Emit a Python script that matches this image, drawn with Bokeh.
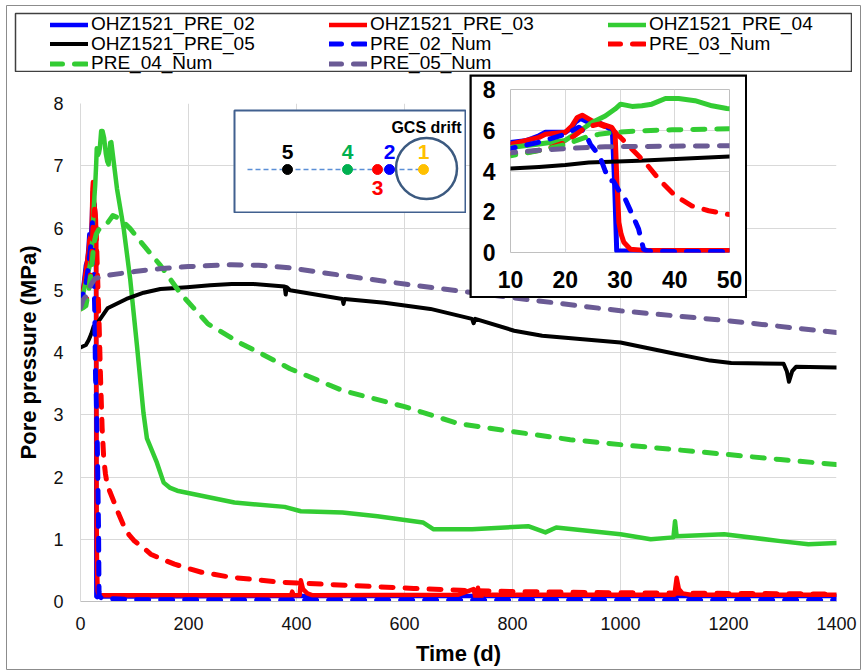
from bokeh.plotting import figure
from bokeh.models import Range1d, FixedTicker, Legend, LegendItem
from bokeh.layouts import column
from bokeh.embed import file_html
from bokeh.resources import INLINE
from bokeh.core.properties import value

FONT = "Liberation Sans"

# ---------------- data (time in days, pore pressure in MPa) ----------------
t_pre02 = [0, 3, 6, 10, 12.7, 14, 15.2, 16.4, 20, 20.9, 21.9, 22.8, 24.3, 26.1, 27.3, 28.6, 29.0, 29.4, 31, 35, 100, 400, 700, 1000, 1400]
p_pre02 = [4.8, 4.9, 5.1, 5.4, 5.48, 5.6, 5.73, 5.9, 5.9, 6.05, 6.4, 6.58, 6.38, 6.38, 6.2, 6.0, 3.5, 0.08, 0.07, 0.08, 0.08, 0.09, 0.09, 0.09, 0.09]

t_pre03 = [0, 5, 10, 15.2, 16.4, 20, 21.2, 22.2, 23.1, 24.9, 26.7, 28.5, 29.1, 29.45, 29.8, 30.2, 30.7, 31.9, 34.6, 100, 390, 392, 395, 406, 408, 412, 420, 430, 700, 728, 732, 736, 740, 745, 750, 1100, 1104, 1108, 1115, 1130, 1400]
p_pre03 = [4.75, 5.0, 5.32, 5.65, 5.8, 5.9, 6.2, 6.63, 6.74, 6.46, 6.3, 6.14, 5.9, 3.4, 1.47, 0.9, 0.5, 0.16, 0.1, 0.1, 0.1, 0.16, 0.1, 0.1, 0.34, 0.2, 0.13, 0.1, 0.11, 0.2, 0.04, 0.22, 0.0, 0.15, 0.11, 0.11, 0.38, 0.2, 0.13, 0.11, 0.11]

t_pre04 = [0, 5, 10, 15.2, 20, 23.1, 24.9, 27.3, 29.1, 30.1, 32.2, 34, 35.8, 38.3, 40.7, 43.7, 46.8, 49.5, 52, 55, 57, 67.6, 80, 92, 104.6, 116.6, 123, 141.5, 154, 165, 179, 224, 285, 378, 408, 485, 550, 634, 654, 725, 829, 861, 881, 1000, 1056, 1098, 1101, 1104, 1192, 1296, 1348, 1400]
p_pre04 = [4.75, 4.95, 5.15, 5.32, 5.5, 6.05, 6.38, 6.7, 7.04, 7.28, 7.17, 7.2, 7.28, 7.56, 7.56, 7.45, 7.2, 7.07, 7.02, 7.37, 7.38, 6.63, 5.99, 5.18, 4.11, 3.03, 2.62, 2.23, 1.91, 1.83, 1.78, 1.70, 1.59, 1.52, 1.45, 1.43, 1.37, 1.27, 1.16, 1.16, 1.21, 1.11, 1.19, 1.08, 1.0, 1.03, 1.29, 1.05, 1.08, 0.97, 0.92, 0.94]

t_pre05 = [0, 5, 10, 15.2, 20, 24.3, 33.4, 50, 85, 117, 148, 197, 240, 280, 320, 378, 380, 382, 388, 485, 487, 489, 563, 648, 725, 728, 731, 803, 855, 1000, 1101, 1166, 1205, 1302, 1308, 1312, 1318, 1325, 1400]
p_pre05 = [4.08, 4.1, 4.12, 4.2, 4.3, 4.42, 4.5, 4.71, 4.86, 4.96, 5.02, 5.05, 5.08, 5.1, 5.1, 5.06, 4.93, 5.05, 5.0, 4.86, 4.78, 4.86, 4.8, 4.7, 4.54, 4.47, 4.54, 4.35, 4.27, 4.16, 3.98, 3.87, 3.83, 3.82, 3.7, 3.53, 3.7, 3.77, 3.76]

t_num02 = [0, 5, 10, 15, 20, 22.5, 23.7, 24.6, 25.8, 26.4, 27.3, 28.0, 28.8, 30.0, 31.0, 32.5, 33.4, 34.3, 35.0, 40, 100, 400, 1400]
p_num02 = [4.75, 4.95, 5.1, 5.4, 5.8, 6.15, 5.85, 5.3, 4.9, 4.66, 4.0, 3.55, 3.5, 2.95, 2.6, 1.7, 1.15, 0.16, 0.08, 0.05, 0.03, 0.02, 0.02]

t_num03 = [0, 5, 10, 12.7, 16.4, 20, 23.7, 26.1, 28.5, 30.1, 32.2, 34.6, 37.1, 40.1, 43.1, 46.2, 49.5, 55, 62, 70, 80, 90, 100, 117, 130, 154, 174, 204, 224, 278, 371, 494, 617, 704, 800, 1000, 1200, 1400]
p_num03 = [4.7, 4.75, 4.83, 4.9, 5.07, 5.4, 6.14, 6.3, 6.05, 5.65, 5.07, 4.42, 3.6, 2.78, 2.29, 2.05, 1.88, 1.75, 1.6, 1.42, 1.22, 1.07, 0.97, 0.86, 0.76, 0.67, 0.6, 0.52, 0.47, 0.39, 0.31, 0.26, 0.21, 0.18, 0.16, 0.14, 0.13, 0.12]

t_num04 = [0, 5, 10, 15.2, 20, 23.7, 26.1, 29.1, 33.4, 39.5, 50, 60, 73, 92, 117, 148, 185, 236, 298, 335, 388, 485, 600, 699, 800, 907, 1000, 1101, 1200, 1296, 1400]
p_num04 = [4.7, 4.72, 4.75, 5.0, 5.3, 5.65, 5.8, 5.9, 5.97, 6.02, 6.08, 6.2, 6.15, 5.99, 5.72, 5.4, 4.95, 4.46, 4.14, 3.98, 3.74, 3.39, 3.13, 2.86, 2.73, 2.6, 2.52, 2.44, 2.36, 2.28, 2.2]

t_num05 = [0, 5, 10, 15.2, 20, 27.3, 50, 100, 150, 200, 280, 330, 388, 450, 600, 800, 1000, 1200, 1400]
p_num05 = [4.72, 4.85, 4.9, 5.02, 5.1, 5.19, 5.24, 5.3, 5.35, 5.38, 5.41, 5.4, 5.36, 5.28, 5.1, 4.88, 4.67, 4.51, 4.32]

series_names = ["OHZ1521_PRE_02", "OHZ1521_PRE_03", "OHZ1521_PRE_04", "OHZ1521_PRE_05",
                "PRE_02_Num", "PRE_03_Num", "PRE_04_Num", "PRE_05_Num"]
series_t = [t_pre02, t_pre03, t_pre04, t_pre05, t_num02, t_num03, t_num04, t_num05]
series_p = [p_pre02, p_pre03, p_pre04, p_pre05, p_num02, p_num03, p_num04, p_num05]
series_colors = ["#0000ff", "#ff0000", "#33cc33", "#000000", "#0000ff", "#ff0000", "#33cc33", "#6b5b95"]
series_dashed = [False, False, False, False, True, True, True, True]

x_ticks = [0, 200, 400, 600, 800, 1000, 1200, 1400]
y_ticks = [0, 1, 2, 3, 4, 5, 6, 7, 8]
inset_x_ticks = [10, 20, 30, 40, 50]
inset_y_ticks = [0, 2, 4, 6, 8]

# schematic of sensor positions along the borehole
sensor_labels = ["5", "4", "3", "2", "1"]
sensor_pos = [53, 113, 143, 155, 189]
sensor_label_y = [61, 61, 24.5, 61, 61]
sensor_colors = ["#000000", "#00b050", "#ff0000", "#0000ff", "#ffc000"]


def line_style(i, width_solid=4.5):
    st = dict(line_color=series_colors[i], line_join="round")
    if series_dashed[i]:
        st.update(line_width=5, line_dash="12 12", line_cap="round")
    else:
        st.update(line_width=(4 if series_colors[i] == "#000000" else width_solid), line_cap="round")
    return st


def at(left, top):
    return {"position": "absolute", "left": f"{left}px", "top": f"{top}px"}


def blank(width, height, left, top, **kw):
    return figure(width=width, height=height, x_axis_type=None, y_axis_type=None,
                  output_backend="svg", toolbar_location=None, frame_align=False,
                  styles=at(left, top), **kw)


def overlay_box(width, height, left, top, color, lw):
    b = blank(width, height, left, top, min_border=1)
    b.background_fill_alpha = 0
    b.border_fill_alpha = 0
    b.outline_line_color = color
    b.outline_line_width = lw
    return b


# ---------------- main plot ----------------
main = figure(width=862, height=670, x_range=Range1d(0, 1400), y_range=Range1d(0, 8),
              output_backend="svg", toolbar_location=None, frame_align=False,
              min_border_left=80, min_border_right=26, min_border_top=103, min_border_bottom=69,
              styles={"position": "relative"})
main.outline_line_color = None
for i in range(8):
    main.line(series_t[i], series_p[i], **line_style(i))

main.xaxis.ticker = FixedTicker(ticks=x_ticks)
main.yaxis.ticker = FixedTicker(ticks=y_ticks)
main.xgrid.ticker = FixedTicker(ticks=x_ticks)
main.ygrid.ticker = FixedTicker(ticks=y_ticks)
main.grid.grid_line_color = "#d9d9d9"
main.grid.grid_line_width = 1
main.axis.major_tick_out = 0
main.axis.major_tick_in = 0
main.axis.minor_tick_out = 0
main.axis.minor_tick_in = 0
main.yaxis.axis_line_color = "#d9d9d9"
main.xaxis.axis_line_color = "#bfbfbf"
main.axis.major_label_text_font = FONT
main.axis.major_label_text_font_size = "18px"
main.axis.major_label_text_color = "#111111"
main.axis.axis_label_text_font = FONT
main.axis.axis_label_text_font_size = "22px"
main.axis.axis_label_text_font_style = "bold"
main.axis.axis_label_text_color = "#000000"
main.xaxis.axis_label = "Time (d)"
main.yaxis.axis_label = "Pore pressure (MPa)"
main.yaxis.major_label_standoff = 17
main.yaxis.axis_label_standoff = 9
main.xaxis.major_label_standoff = 15
main.xaxis.axis_label_standoff = 8

# ---------------- legend panel ----------------
leg = blank(838, 66, 14, 12, x_range=Range1d(-3, -2), y_range=Range1d(0, 1), min_border=0)
leg.outline_line_color = None
leg.background_fill_alpha = 0
leg.border_fill_alpha = 0
# swatch renderers (their data lie outside this panel's ranges, only the legend swatches show)
leg_renderers = [leg.line(series_t[i], series_p[i], **line_style(i)) for i in range(8)]
rows = [[0, 1, 2], [3, 4, 5], [6, 7]]
row_loc = [43, 23.5, 4]
for ri, row in enumerate(rows):
    lg = Legend(items=[LegendItem(label=series_names[i], renderers=[leg_renderers[i]]) for i in row],
                orientation="horizontal", location=(36, row_loc[ri]), spacing=0, padding=0, margin=0,
                glyph_width=38, glyph_height=19, label_width=238, label_height=19, label_standoff=3,
                label_text_font=FONT, label_text_font_size="19px", label_text_color="#000000",
                border_line_color=None, background_fill_alpha=0)
    leg.add_layout(lg)
leg_box = overlay_box(838, 60, 14, 12, "#404040", 1.5)

# ---------------- inset (black box behind, plot on top) ----------------
ins_box = blank(278, 224, 469, 74, min_border=0)
ins_box.background_fill_color = "#000000"
ins_box.border_fill_color = "#000000"
ins_box.outline_line_color = None

ins = figure(width=274, height=220, x_range=Range1d(10, 50), y_range=Range1d(0, 8),
             output_backend="svg", toolbar_location=None, frame_align=False,
             min_border_left=39, min_border_right=16, min_border_top=13, min_border_bottom=44,
             styles=at(471, 76))
ins.outline_line_color = None
for i in range(8):
    ins.line(series_t[i], series_p[i], **line_style(i, width_solid=5))
ins.xaxis.ticker = FixedTicker(ticks=inset_x_ticks)
ins.yaxis.ticker = FixedTicker(ticks=inset_y_ticks)
ins.xgrid.ticker = FixedTicker(ticks=inset_x_ticks)
ins.ygrid.ticker = FixedTicker(ticks=inset_y_ticks)
ins.grid.grid_line_color = "#d9d9d9"
ins.axis.axis_line_color = None
ins.axis.major_tick_out = 0
ins.axis.major_tick_in = 0
ins.axis.minor_tick_out = 0
ins.axis.minor_tick_in = 0
ins.axis.major_label_text_font = FONT
ins.axis.major_label_text_font_size = "23px"
ins.axis.major_label_text_font_style = "bold"
ins.axis.major_label_text_color = "#000000"
ins.yaxis.major_label_standoff = 15
ins.xaxis.major_label_standoff = 18

# ---------------- schematic ----------------
sch = blank(233, 104, 233, 109, x_range=Range1d(0, 231), y_range=Range1d(0, 102), min_border=1)
sch.outline_line_color = "#41608f"
sch.outline_line_width = 2
sch.line(x=[13, 186], y=[43, 43], line_color="#5b8fd6", line_width=1.5, line_dash="5 3")
sch.circle(x=[192], y=[44], radius=30.5, fill_color=None, line_color="#3c5a80", line_width=2.5)
sch.scatter(x=sensor_pos, y=[43] * len(sensor_pos), size=10, marker="circle",
            fill_color=sensor_colors, line_color=sensor_colors)
sch.text(x=sensor_pos, y=sensor_label_y, text=sensor_labels, text_color=sensor_colors,
         text_font=value(FONT), text_font_style="bold", text_font_size="21px",
         text_align="center", text_baseline="middle")
sch.text(x=[192], y=[85], text=["GCS drift"], text_color="#000000",
         text_font=value(FONT), text_font_style="bold", text_font_size="16px",
         text_align="center", text_baseline="middle")

# ---------------- thin grey chart border (transparent overlay) ----------------
frame_box = overlay_box(856, 666, 5, 4, "#8c8c8c", 1)

root = column(main, leg, leg_box, ins_box, ins, sch, frame_box, spacing=0,
              styles={"position": "relative"})

open("out.html", "w").write(file_html(root, INLINE))
